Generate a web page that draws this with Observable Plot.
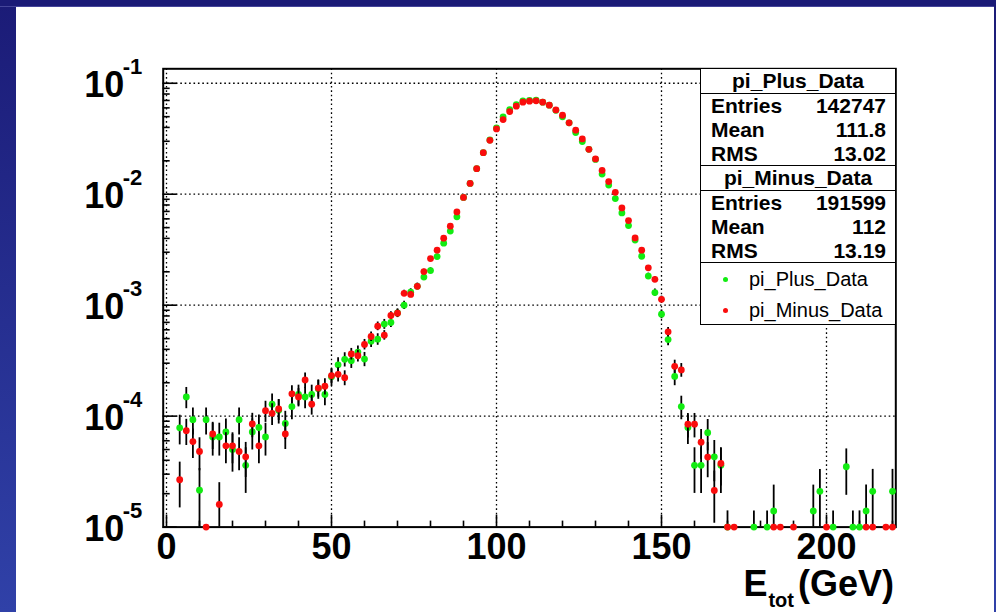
<!DOCTYPE html>
<html>
<head>
<meta charset="utf-8">
<script src="https://cdn.jsdelivr.net/npm/d3@7"></script>
<script src="https://cdn.jsdelivr.net/npm/@observablehq/plot@0.6"></script>
<style>
html, body { margin: 0; padding: 0; background: #fff; }
#wrap { position: relative; width: 996px; height: 612px; overflow: hidden; background: #fff;
        font-family: "Liberation Sans", Arial, Helvetica, sans-serif; color: #000; }
.band { position: absolute; z-index: 10; }
#bl { left: 0; top: 0; width: 16px; height: 612px; background: linear-gradient(#1b1b77, #3041a8); }
#bt { left: 0; top: 0; width: 996px; height: 6px; background: #1b1b77; border-bottom: 1px solid #45459a; }
#br { left: 994px; top: 0; width: 2px; height: 612px; background: linear-gradient(#1b1b77, #3041a8); }
#chart { position: absolute; left: 0; top: 0; }
#stats { position: absolute; left: 700px; top: 67.5px; width: 196px; z-index: 5; }
.box { position: absolute; left: 0; width: 196px; border: 1.5px solid #000; background: #fff; box-sizing: border-box; }
.hdr { height: 24px; line-height: 24px; text-align: center; font-weight: bold; font-size: 21px; border-bottom: 1.5px solid #000; }
.row { height: 24.2px; line-height: 24.2px; display: flex; justify-content: space-between; padding: 0 9px 0 10px;
       font-weight: bold; font-size: 21px; }
.leg { position: absolute; left: 0; height: 30px; line-height: 30px; font-size: 20px; }
.leg .dot { position: absolute; left: 22px; top: 13px; width: 5px; height: 5px; border-radius: 50%; }
.leg .lab { position: absolute; left: 48px; top: 0; white-space: nowrap; }
#xtitle { position: absolute; right: 102px; top: 566px; font-size: 36px; line-height: 36px; font-weight: bold; white-space: nowrap; }
#xtitle .sub { font-size: 20px; position: relative; top: 11px; margin-left: 1px; }
#xtitle .unit { margin-left: 4px; }
</style>
</head>
<body>
<div id="wrap">
  <div id="chart"></div>
  <div id="stats"></div>
  <div id="xtitle"></div>
  <div class="band" id="bl"></div>
  <div class="band" id="bt"></div>
  <div class="band" id="br"></div>
</div>
<script>
// ---------------- data ----------------
const seriesNames = ["pi_Plus_Data", "pi_Minus_Data"];
const seriesColors = ["#12ec12", "#fa0c0c"];
const statLabels = ["Entries", "Mean", "RMS"];
const plusStats = ["142747", "111.8", "13.02"];
const minusStats = ["191599", "112", "13.19"];

// bin centres (GeV) and normalised contents, pi+ data
const plusBins = [
  4, 6, 8, 10, 12, 14, 16, 18, 20, 22,
  24, 26, 28, 30, 32, 34, 36, 38, 40, 42,
  44, 46, 48, 50, 52, 54, 56, 58, 60, 62,
  64, 66, 68, 70, 72, 74, 76, 78, 80, 82,
  84, 86, 88, 90, 92, 94, 96, 98, 100, 102,
  104, 106, 108, 110, 112, 114, 116, 118, 120, 122,
  124, 126, 128, 130, 132, 134, 136, 138, 140, 142,
  144, 146, 148, 150, 152, 154, 156, 158, 160, 162,
  164, 166, 168,
  170, 178, 182, 184, 196, 198, 202, 206, 208, 210, 212, 214, 220
];
const plusVals = [
  7.85e-5, 1.49e-4, 9.3e-5, 2.15e-5, 9.3e-5, 6.5e-5, 6.5e-5, 7.2e-5, 5.0e-5, 9.3e-5,
  3.6e-5, 7.2e-5, 7.9e-5, 6.5e-5, 1.28e-4, 1.13e-4, 8.6e-5, 1.22e-4, 1.57e-4, 1.49e-4,
  1.57e-4, 1.77e-4, 1.57e-4, 2.26e-4, 2.9e-4, 3.25e-4, 3.16e-4, 3.78e-4, 3.27e-4, 4.74e-4,
  4.94e-4, 6.75e-4, 6.98e-4, 8.5e-4, 1.0e-3, 1.31e-3, 1.48e-3, 1.79e-3, 2.05e-3, 2.74e-3,
  3.62e-3, 4.65e-3, 6.25e-3, 9.35e-3, 1.25e-2, 1.70e-2, 2.37e-2, 3.08e-2, 3.95e-2, 4.98e-2,
  5.79e-2, 6.42e-2, 6.94e-2, 7.0e-2, 7.05e-2, 6.75e-2, 6.34e-2, 5.7e-2, 4.98e-2, 4.40e-2,
  3.6e-2, 2.98e-2, 2.54e-2, 2.06e-2, 1.52e-2, 1.21e-2, 9.14e-3, 6.79e-3, 5.22e-3, 3.86e-3,
  2.76e-3, 1.83e-3, 1.30e-3, 8.3e-4, 4.9e-4, 2.28e-4, 1.22e-4, 7.9e-5, 3.6e-5, 3.6e-5,
  7.1e-5, 4.3e-5, 3.6e-5,
  7.0e-6, 7.0e-6, 7.0e-6, 1.4e-5, 1.4e-5, 2.1e-5, 7.0e-6, 3.5e-5, 7.0e-6, 7.0e-6, 1.4e-5, 2.1e-5, 2.1e-5
];

// pi- data
const minusBins = [
  4, 6, 8, 10, 12, 14, 16, 18, 20, 22,
  24, 26, 28, 30, 32, 34, 36, 38, 40, 42,
  44, 46, 48, 50, 52, 54, 56, 58, 60, 62,
  64, 66, 68, 70, 72, 74, 76, 78, 80, 82,
  84, 86, 88, 90, 92, 94, 96, 98, 100, 102,
  104, 106, 108, 110, 112, 114, 116, 118, 120, 122,
  124, 126, 128, 130, 132, 134, 136, 138, 140, 142,
  144, 146, 148, 150, 152, 154, 156, 158, 160, 162,
  164, 166, 168,
  170, 172, 184, 186, 190, 200, 212, 214, 218, 220
];
const minusVals = [
  2.67e-5, 7.4e-5, 5.9e-5, 4.8e-5, 5.2e-6, 6.9e-5, 1.6e-5, 5.4e-5, 5.4e-5, 4.8e-5,
  4.3e-5, 8.5e-5, 5.4e-5, 1.12e-4, 1.06e-4, 1.16e-4, 6.9e-5, 1.59e-4, 1.49e-4, 2.12e-4,
  1.28e-4, 1.79e-4, 1.86e-4, 2.32e-4, 2.38e-4, 2.22e-4, 3.64e-4, 3.5e-4, 4.43e-4, 5.22e-4,
  6.47e-4, 5.37e-4, 8.07e-4, 8.47e-4, 1.28e-3, 1.25e-3, 1.48e-3, 2.01e-3, 2.63e-3, 3.13e-3,
  4.02e-3, 5.15e-3, 6.93e-3, 9.35e-3, 1.25e-2, 1.70e-2, 2.37e-2, 3.06e-2, 3.88e-2, 4.71e-2,
  5.56e-2, 6.21e-2, 6.75e-2, 6.89e-2, 6.94e-2, 6.75e-2, 6.34e-2, 5.75e-2, 5.15e-2, 4.40e-2,
  3.78e-2, 3.15e-2, 2.54e-2, 2.08e-2, 1.64e-2, 1.30e-2, 1.04e-2, 7.53e-3, 5.79e-3, 4.04e-3,
  3.13e-3, 2.17e-3, 1.71e-3, 1.13e-3, 5.75e-4, 2.81e-4, 2.61e-4, 8.47e-5, 8.47e-5, 5.83e-5,
  4.28e-5, 2.14e-5, 3.75e-5,
  5.2e-6, 5.2e-6, 5.2e-6, 5.2e-6, 5.2e-6, 5.2e-6, 5.2e-6, 5.2e-6, 5.2e-6, 5.2e-6
];

// axes
const xDomain = [-1, 221];
const yDomain = [1e-5, 0.135];
const xMajor = [0, 50, 100, 150, 200];
const xMinor = [10, 20, 30, 40, 60, 70, 80, 90, 110, 120, 130, 140, 160, 170, 180, 190, 210, 220];
const yMajor = [1e-5, 1e-4, 1e-3, 1e-2, 1e-1];
const yBaseLabel = "10";
const yExpLabels = ["-5", "-4", "-3", "-2", "-1"];
const yMinorFactors = [2, 3, 4, 5, 6, 7, 8, 9];
const xTitle = ["E", "tot", "(GeV)"];

// ---------------- build ----------------
function makeSeries(bins, vals, nEntries) {
  return bins.map((e, i) => {
    const v = vals[i];
    const err = Math.sqrt(v / nEntries);          // Poisson error of a normalised bin
    return {e, v, lo: Math.max(v - err, 1e-8), hi: v + err};
  });
}
const plus = makeSeries(plusBins, plusVals, +plusStats[0]);
const minus = makeSeries(minusBins, minusVals, +minusStats[0]);
const yMinor = yMajor.slice(0, 4).flatMap(d => yMinorFactors.map(k => k * d));

const dotted = {stroke: "#000", strokeOpacity: 1, strokeWidth: 1.3, strokeDasharray: "1.6,2.8"};

const chart = Plot.plot({
  width: 996,
  height: 612,
  marginLeft: 162.7,
  marginRight: 100.7,
  marginTop: 68.3,
  marginBottom: 85.4,
  style: {background: "transparent", fontFamily: "'Liberation Sans', Arial, Helvetica, sans-serif", color: "#000", overflow: "visible"},
  x: {type: "linear", domain: xDomain},
  y: {type: "log", domain: yDomain, clamp: true},
  marks: [
    Plot.gridX({ticks: xMajor, ...dotted}),
    Plot.gridY({ticks: yMajor.slice(1), ...dotted}),
    Plot.frame({stroke: "#000", strokeWidth: 2}),
    // inward ticks
    Plot.axisX({ticks: xMajor, tickSize: -12, tickFormat: () => "", label: null, strokeWidth: 1.6}),
    Plot.axisX({ticks: xMinor, tickSize: -6, tickFormat: () => "", label: null, strokeWidth: 1.6}),
    Plot.axisY({ticks: yMajor, tickSize: -14, tickFormat: () => "", label: null, strokeWidth: 1.6}),
    Plot.axisY({ticks: yMinor, tickSize: -7, tickFormat: () => "", label: null, strokeWidth: 1.6}),
    // tick labels
    Plot.axisX({ticks: xMajor, tickSize: 0, tickPadding: 6, tickFormat: d => String(d), label: null,
                fontSize: 36, fontWeight: "bold"}),
    Plot.axisY({ticks: yMajor, tickSize: 0, tickPadding: 39, tickFormat: () => yBaseLabel, label: null,
                fontSize: 36, fontWeight: "bold", dy: 2}),
    Plot.axisY({ticks: yMajor, tickSize: 0, tickPadding: 21, tickFormat: d => yExpLabels[yMajor.indexOf(d)], label: null,
                fontSize: 22, fontWeight: "bold", dy: -16}),
    // pi+ : error bars then markers
    Plot.ruleX(plus, {x: "e", y1: "lo", y2: "hi", stroke: "#000", strokeWidth: 1.8}),
    Plot.dot(plus, {x: "e", y: "v", r: 3.4, fill: seriesColors[0], stroke: "none"}),
    // pi- : error bars then markers
    Plot.ruleX(minus, {x: "e", y1: "lo", y2: "hi", stroke: "#000", strokeWidth: 1.8}),
    Plot.dot(minus, {x: "e", y: "v", r: 3.4, fill: seriesColors[1], stroke: "none"})
  ]
});
document.getElementById("chart").appendChild(chart);

// ---------------- stat boxes & legend ----------------
const stats = document.getElementById("stats");
function statBox(top, height, name, values) {
  const box = document.createElement("div");
  box.className = "box";
  box.style.top = top + "px";
  box.style.height = height + "px";
  const hdr = document.createElement("div");
  hdr.className = "hdr";
  hdr.textContent = name;
  box.appendChild(hdr);
  statLabels.forEach((lab, i) => {
    const row = document.createElement("div");
    row.className = "row";
    const a = document.createElement("span"); a.textContent = lab;
    const b = document.createElement("span"); b.textContent = values[i];
    row.appendChild(a); row.appendChild(b);
    box.appendChild(row);
  });
  stats.appendChild(box);
}
statBox(0, 98.5, seriesNames[0], plusStats);
statBox(97, 98.5, seriesNames[1], minusStats);

const legBox = document.createElement("div");
legBox.className = "box";
legBox.style.top = "194.5px";
legBox.style.height = "63px";
seriesNames.forEach((name, i) => {
  const r = document.createElement("div");
  r.className = "leg";
  r.style.top = (i === 0 ? 1 : 32) + "px";
  r.style.width = "190px";
  const d = document.createElement("span"); d.className = "dot"; d.style.background = seriesColors[i];
  const t = document.createElement("span"); t.className = "lab"; t.textContent = name;
  r.appendChild(d); r.appendChild(t);
  legBox.appendChild(r);
});
stats.appendChild(legBox);

// ---------------- x-axis title ----------------
const xt = document.getElementById("xtitle");
xt.appendChild(document.createTextNode(xTitle[0]));
const sub = document.createElement("span"); sub.className = "sub"; sub.textContent = xTitle[1];
xt.appendChild(sub);
const unit = document.createElement("span"); unit.className = "unit"; unit.textContent = xTitle[2];
xt.appendChild(unit);
</script>
</body>
</html>
